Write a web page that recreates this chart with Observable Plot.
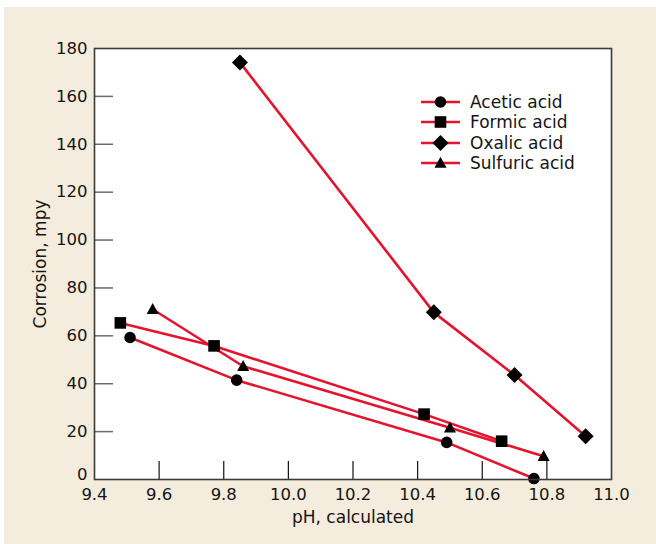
<!DOCTYPE html>
<html><head><meta charset="utf-8">
<script src="https://cdn.jsdelivr.net/npm/d3@7"></script>
<script src="https://cdn.jsdelivr.net/npm/@observablehq/plot@0.6"></script>
<style>
body{margin:0;background:#fff;}
#wrap{position:relative;width:656px;height:544px;overflow:hidden;background:#fff;}
#chart{position:absolute;left:4px;top:7px;}
#legend{position:absolute;left:421px;top:92px;font-family:"DejaVu Sans",sans-serif;font-size:17px;color:#151515;}
.row{display:flex;align-items:center;height:20.3px;}
.row svg{margin-right:10px;}
</style></head><body>
<div id="wrap"><div id="chart"></div><div id="legend"></div></div>
<script>
// ---- data ----
const series = ["Acetic acid", "Formic acid", "Oxalic acid", "Sulfuric acid"];
const aceticPH = [9.51, 9.84, 10.49, 10.76];
const aceticCorr = [59.3, 41.5, 15.5, 0.4];
const formicPH = [9.48, 9.77, 10.42, 10.66];
const formicCorr = [65.4, 55.8, 27.3, 16.0];
const oxalicPH = [9.85, 10.45, 10.70, 10.92];
const oxalicCorr = [174.2, 69.8, 43.6, 18.1];
const sulfuricPH = [9.58, 9.86, 10.50, 10.79];
const sulfuricCorr = [71.1, 47.3, 21.6, 9.7];
const xTicks = [9.4, 9.6, 9.8, 10.0, 10.2, 10.4, 10.6, 10.8, 11.0];
const yTicks = [0, 20, 40, 60, 80, 100, 120, 140, 160, 180];

const phs = [aceticPH, formicPH, oxalicPH, sulfuricPH];
const corrs = [aceticCorr, formicCorr, oxalicCorr, sulfuricCorr];
const rows = series.flatMap((s, i) => phs[i].map((p, j) => ({acid: s, ph: p, corr: corrs[i][j]})));

// ---- style ----
const RED = "#e2142f";
const circle = {draw(c){ const r = 5.8; c.moveTo(r, 0); c.arc(0, 0, r, 0, 2 * Math.PI); c.closePath(); }};
const square = {draw(c){ const h = 5.8; c.rect(-h, -h, 2 * h, 2 * h); }};
const diamond = {draw(c){ const h = 8; c.moveTo(0, -h); c.lineTo(h, 0); c.lineTo(0, h); c.lineTo(-h, 0); c.closePath(); }};
const triangle = {draw(c){ const w = 6, t = 6.2, b = 4.8; c.moveTo(0, -t); c.lineTo(w, b); c.lineTo(-w, b); c.closePath(); }};
const symbols = [circle, square, diamond, triangle];

const W = 652, H = 537, mL = 90, mR = 45, mT = 41, mB = 65;
const pw = W - mL - mR, ph = H - mT - mB;
const FONT = "DejaVu Sans, sans-serif";

const chart = Plot.plot({
  width: W, height: H,
  marginLeft: mL, marginRight: mR, marginTop: mT, marginBottom: mB,
  style: {background: "#f4ecdc", fontFamily: FONT, fontSize: "17px", color: "#151515", overflow: "visible"},
  x: {domain: [9.4, 11.0]},
  y: {domain: [0, 180]},
  symbol: {domain: series, range: symbols},
  marks: [
    Plot.frame({fill: "white", stroke: "none"}),
    Plot.tickY(yTicks.slice(1, -1), {y: d => d, stroke: "#6a6a6a", strokeWidth: 1.5, insetRight: pw - 19}),
    Plot.tickX(xTicks.slice(1, -1), {x: d => d, stroke: "#111", strokeWidth: 1.2, insetTop: ph - 18}),
    Plot.line(rows, {x: "ph", y: "corr", z: "acid", stroke: RED, strokeWidth: 2.6}),
    Plot.dot(rows, {x: "ph", y: "corr", symbol: "acid", fill: "black", stroke: "none"}),
    Plot.frame({stroke: "#3a3a3a", strokeWidth: 1.6}),
    Plot.axisY(yTicks.slice(1), {tickSize: 0, tickPadding: 7, label: null, fontSize: 16.5, fill: "#151515"}),
    Plot.axisY(yTicks.slice(0, 1), {tickSize: 0, tickPadding: 7, label: null, fontSize: 16.5, fill: "#151515", dy: -5}),
    Plot.axisX(xTicks, {tickSize: 0, tickPadding: 9, label: null, fontSize: 16.5, fill: "#151515", tickFormat: d => d.toFixed(1)}),
    Plot.text(["Corrosion, mpy"], {text: d => d, frameAnchor: "left", textAnchor: "middle", lineAnchor: "middle", rotate: -90, dx: -54, fontSize: 17, fill: "#151515"}),
    Plot.text(["pH, calculated"], {text: d => d, frameAnchor: "bottom", textAnchor: "middle", lineAnchor: "middle", dy: 38, fontSize: 17, fill: "#151515"})
  ]
});
document.getElementById("chart").appendChild(chart);

// ---- legend ----
const legend = d3.select("#legend");
series.forEach((s, i) => {
  const row = legend.append("div").attr("class", "row");
  const svg = row.append("svg").attr("width", 39).attr("height", 20);
  svg.append("line").attr("x1", 0).attr("x2", 39).attr("y1", 10).attr("y2", 10)
    .attr("stroke", RED).attr("stroke-width", 2.6);
  const p = d3.path(); symbols[i].draw(p, 0);
  svg.append("path").attr("d", p.toString()).attr("transform", "translate(19.5,10)").attr("fill", "black");
  row.append("span").text(s);
});
</script>
</body></html>
